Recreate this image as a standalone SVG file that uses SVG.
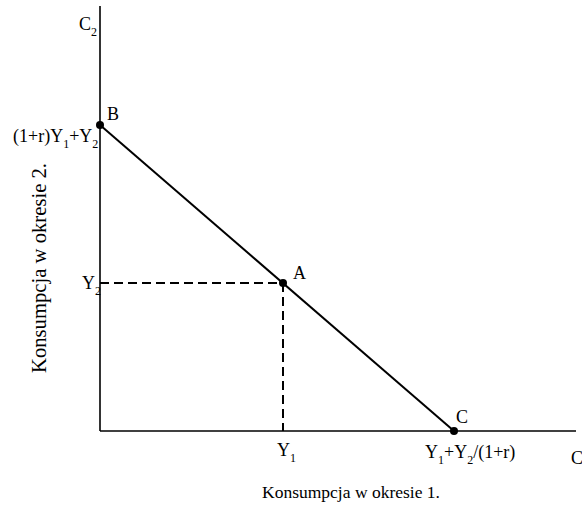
<svg xmlns="http://www.w3.org/2000/svg" width="582" height="505" viewBox="0 0 582 505">
<style>
text{font-family:"Liberation Serif","Times New Roman",serif;fill:#000;}
.lbl{font-size:18px;}
.sub{font-size:12px;}
.axis{stroke:#000;stroke-width:1.6;fill:none;}
.budget{stroke:#000;stroke-width:2;fill:none;}
.dash{stroke:#000;stroke-width:2;fill:none;stroke-dasharray:9 5;}
.dot{fill:#000;}
</style>
<rect width="582" height="505" fill="#fff"/>
<g id="connectors">
<line class="axis" x1="100" y1="6" x2="100" y2="431"/>
<line class="axis" x1="100" y1="431" x2="576" y2="431"/>
<line class="budget" x1="100" y1="125" x2="454" y2="431"/>
<line class="dash" x1="100" y1="283" x2="283" y2="283"/>
<line class="dash" x1="283" y1="283" x2="283" y2="431"/>
</g>
<g id="axis-labels">
<text class="lbl" x="79" y="30">C<tspan class="sub" dy="6">2</tspan></text>
<text class="lbl" x="571" y="464">C</text>
<text x="262" y="498" font-size="17" textLength="178" lengthAdjust="spacingAndGlyphs">Konsumpcja w okresie 1.</text>
<text x="0" y="0" font-size="20" textLength="210" lengthAdjust="spacingAndGlyphs" transform="translate(46,373) rotate(-90)">Konsumpcja w okresie 2.</text>
</g>
<g id="node-B">
<circle class="dot" cx="100" cy="125" r="4"/>
<text class="lbl" x="107" y="120">B</text>
<text class="lbl" x="13" y="142">(1+r)Y<tspan class="sub" dy="6">1</tspan><tspan dy="-6">+Y</tspan><tspan class="sub" dy="6">2</tspan></text>
</g>
<g id="node-A">
<circle class="dot" cx="283" cy="283" r="4"/>
<text class="lbl" x="293" y="279">A</text>
<text class="lbl" x="82" y="289">Y<tspan class="sub" dy="6">2</tspan></text>
<text class="lbl" x="277" y="456">Y<tspan class="sub" dy="6">1</tspan></text>
</g>
<g id="node-C">
<circle class="dot" cx="454" cy="431" r="4"/>
<text class="lbl" x="456" y="423">C</text>
<text class="lbl" x="425" y="458">Y<tspan class="sub" dy="6">1</tspan><tspan dy="-6">+Y</tspan><tspan class="sub" dy="6">2</tspan><tspan dy="-6">/(1+r)</tspan></text>
</g>
</svg>
